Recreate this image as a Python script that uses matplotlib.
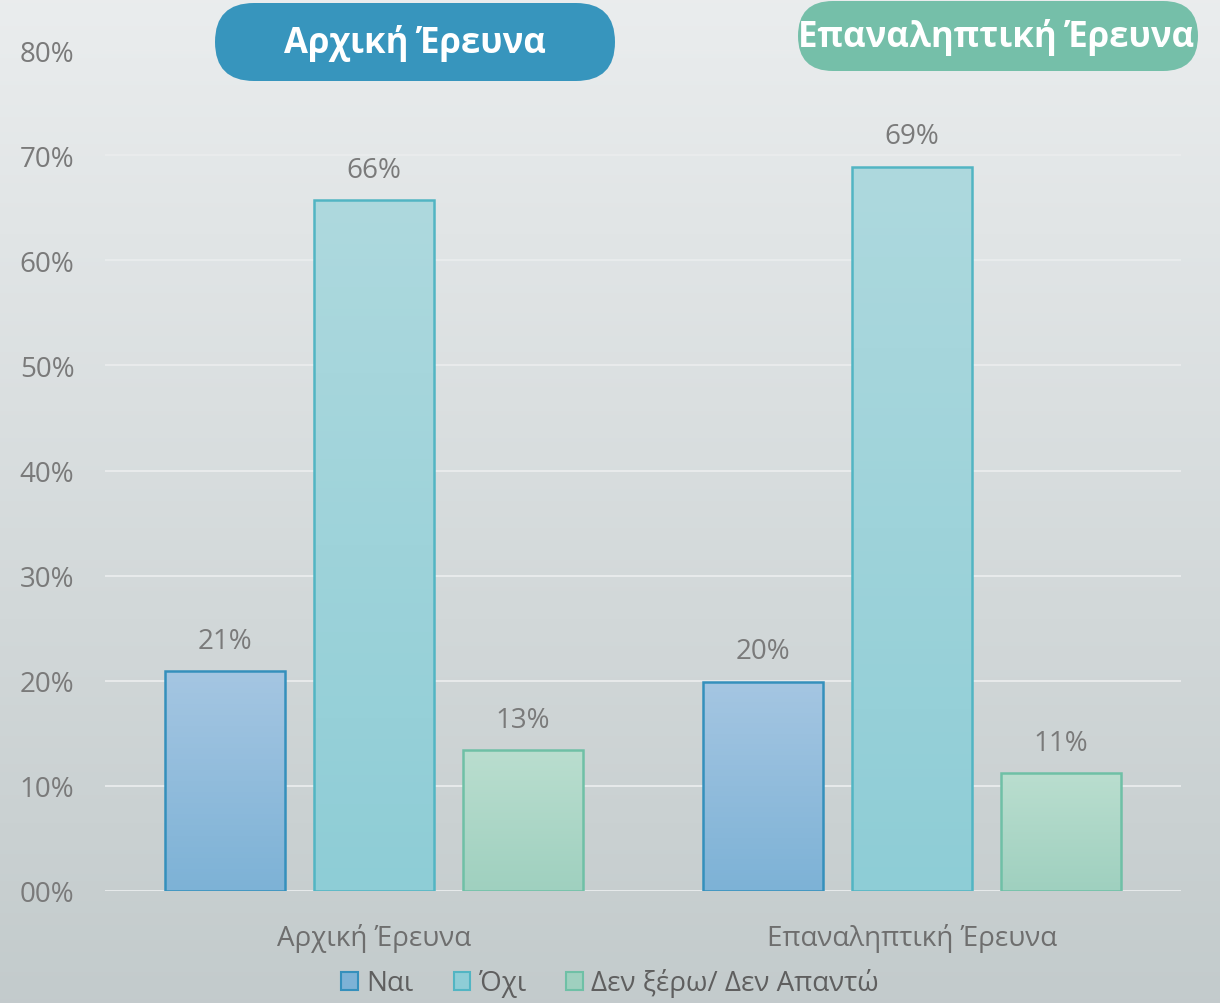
import numpy as np
import matplotlib.pyplot as plt
from matplotlib.patches import FancyBboxPatch, Patch

plt.rcParams['font.family'] = ['Open Sans', 'DejaVu Sans']

# data
groups = ["Αρχική Έρευνα", "Επαναληπτική Έρευνα"]
series = ["Ναι", "Όχι", "Δεν ξέρω/ Δεν Απαντώ"]
nai = [0.209, 0.199]
oxi = [0.657, 0.689]
dk = [0.134, 0.112]
labels = [["21%", "20%"], ["66%", "69%"], ["13%", "11%"]]
yticks = [0, 0.1, 0.2, 0.3, 0.4, 0.5, 0.6, 0.7, 0.8]
ytick_labels = ["00%", "10%", "20%", "30%", "40%", "50%", "60%", "70%", "80%"]

tops = ["#a5c6e2", "#aed9de", "#badecf"]
bottoms = ["#7db2d6", "#8ecdd6", "#9fd0bf"]
edges = ["#3590bc", "#52b5c3", "#6fc0a6"]

W, H = 1220, 1004
fig = plt.figure(figsize=(W / 100, H / 100), dpi=100)

# background gradient
bg = fig.add_axes([0, 0, 1, 1], zorder=0)
grad = np.linspace(0, 1, 256).reshape(-1, 1)
top_c = np.array([0.918, 0.929, 0.933])
bot_c = np.array([0.765, 0.796, 0.800])
img = top_c + (bot_c - top_c) * grad[:, :, None]
bg.imshow(img, aspect="auto", extent=[0, 1, 0, 1], origin="upper")
bg.axis("off")

ax = fig.add_axes([105 / W, 112 / H, 1076 / W, 841 / H], zorder=1)
ax.patch.set_alpha(0)

x = np.arange(len(groups))
width = 0.223
step = 0.277
for i, vals in enumerate([nai, oxi, dk]):
    pos = x + (i - 1) * step
    bars = ax.bar(pos, vals, width, facecolor="none", edgecolor=edges[i],
                  linewidth=1.8, zorder=3, label=series[i])
    c0 = np.array(plt.matplotlib.colors.to_rgb(tops[i]))
    c1 = np.array(plt.matplotlib.colors.to_rgb(bottoms[i]))
    for b, lab in zip(bars, labels[i]):
        bx, by = b.get_x(), b.get_y()
        bw, bh = b.get_width(), b.get_height()
        g = c0 + (c1 - c0) * grad[:, :, None]
        im = ax.imshow(g, aspect="auto", extent=[bx, bx + bw, by, by + bh],
                       origin="upper", zorder=2)
        im.set_clip_path(b)
        ax.annotate(lab, (bx + bw / 2, by + bh), xytext=(0, 22),
                    textcoords="offset points", ha="center", va="center",
                    fontsize=20, color="#7a7a7a")

ax.set_xlim(-0.5, 1.5)
ax.set_ylim(0, 0.8)
ax.set_yticks(yticks)
ax.set_yticklabels(ytick_labels, fontsize=20, color="#7a7a7a")
ax.set_xticks(x)
ax.set_xticklabels(groups, fontsize=20, color="#6e6e6e")
ax.tick_params(length=0)
ax.tick_params(axis="x", pad=23)
ax.tick_params(axis="y", pad=22)
ax.grid(axis="y", color="#eaeced", linewidth=1.3, zorder=0)
ax.set_axisbelow(True)
for s in ax.spines.values():
    s.set_visible(False)

handles = [Patch(facecolor=bottoms[i], edgecolor=edges[i], linewidth=1.5)
           for i in range(3)]
fig.legend(handles, series, loc="center", bbox_to_anchor=(0.5, 20 / H),
           ncol=3, frameon=False, fontsize=20, labelcolor="#5f5f5f",
           handlelength=0.6, handleheight=0.6, handletextpad=0.3,
           columnspacing=1.45, borderpad=0.1)

# title badges
ov = fig.add_axes([0, 0, 1, 1], zorder=5)
ov.set_xlim(0, W)
ov.set_ylim(H, 0)
ov.axis("off")
ov.patch.set_alpha(0)
ov.add_patch(FancyBboxPatch((215, 4), 400, 78,
                            boxstyle="round,pad=0,rounding_size=39",
                            facecolor="#3795bd", edgecolor="none"))
ov.text(415, 43, groups[0], ha="center", va="center", color="white",
        fontsize=25, fontweight="bold")
ov.add_patch(FancyBboxPatch((798, 2), 400, 70,
                            boxstyle="round,pad=0,rounding_size=35",
                            facecolor="#75bfa9", edgecolor="none"))
ov.text(996, 38, groups[1], ha="center", va="center", color="white",
        fontsize=25, fontweight="bold")

fig.savefig("out.png", dpi=100)
